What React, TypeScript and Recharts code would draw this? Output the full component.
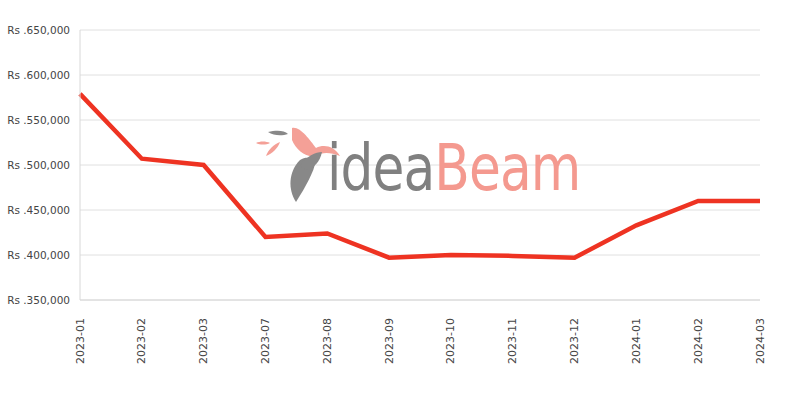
import { LineChart, Line, XAxis, YAxis, CartesianGrid } from 'recharts'

const months = ['2023-01', '2023-02', '2023-03', '2023-07', '2023-08', '2023-09', '2023-10', '2023-11', '2023-12', '2024-01', '2024-02', '2024-03']
const prices = [579000, 507000, 500000, 420000, 424000, 397000, 400000, 399000, 397000, 433000, 460000, 460000]
const yTicks = [350000, 400000, 450000, 500000, 550000, 600000, 650000]

const data = months.map((m, i) => ({ month: m, price: prices[i] }))

const fmt = (v: number) => 'Rs .' + v.toLocaleString('en-US')

function RotatedTick({ x, y, payload }: any) {
  return (
    <text
      x={x}
      y={y}
      transform={`rotate(-90, ${x}, ${y})`}
      textAnchor="end"
      dominantBaseline="central"
      fontSize={11}
      fill="#444"
      fontFamily="DejaVu Sans"
    >
      {payload.value}
    </text>
  )
}

function Watermark() {
  return (
    <svg width={800} height={400} style={{ position: 'absolute', left: 0, top: 0, pointerEvents: 'none' }}>
      {/* bird */}
      <path d="M292 128 C300 126 310 140 316 148 C324 144 334 146 340 156 C330 152 322 152 316 156 C306 158 296 150 292 140 Z" fill="#f4a097" />
      <path d="M268 132 C276 130 284 130 288 134 C282 136 274 136 268 132 Z" fill="#888" />
      <path d="M256 143 C260 141 266 141 270 143 C266 145 260 145 256 143 Z" fill="#f4a097" />
      <path d="M266 156 C268 150 274 144 280 142 C278 148 272 154 266 156 Z" fill="#f4a097" />
      {/* feather */}
      <path d="M296 202 C288 190 288 172 300 160 C306 156 312 158 316 160 C314 172 306 186 296 202 Z" fill="#888" />
      <path d="M300 166 C306 156 316 152 322 152 C320 162 314 168 306 170 Z" fill="#888" />
      <g transform="translate(327 0) scale(0.9 1) translate(-327 0)">
        <text x={327} y={190} fontSize={64} fontFamily="DejaVu Sans Condensed" fill="#808080" letterSpacing={-1}>
          idea<tspan fill="#f4998f">Beam</tspan>
        </text>
      </g>
    </svg>
  )
}

export default function App() {
  return (
    <div style={{ position: 'absolute', left: 0, top: 0, width: 800, height: 400 }}>
      <LineChart width={800} height={400} data={data} margin={{ top: 30, right: 40, bottom: 0, left: 0 }}>
        <CartesianGrid vertical={false} stroke="#e0e0e0" />
        <XAxis
          dataKey="month"
          height={100}
          tick={<RotatedTick />}
          tickLine={false}
          axisLine={{ stroke: '#d8d8d8' }}
          tickMargin={12}
          interval={0}
        />
        <YAxis
          domain={[350000, 650000]}
          ticks={yTicks}
          tickFormatter={fmt}
          width={80}
          tickLine={false}
          axisLine={{ stroke: '#d8d8d8' }}
          tick={{ fontSize: 10.5, fill: '#444', fontFamily: 'DejaVu Sans' }}
          tickMargin={4}
        />
        <YAxis
          yAxisId="right"
          orientation="right"
          domain={[350000, 650000]}
          width={0}
          tick={false}
          tickLine={false}
          axisLine={{ stroke: '#d8d8d8' }}
        />
        <Line
          type="linear"
          dataKey="price"
          stroke="#ee3322"
          strokeWidth={4.5}
          dot={false}
          isAnimationActive={false}
        />
      </LineChart>
      <Watermark />
    </div>
  )
}
